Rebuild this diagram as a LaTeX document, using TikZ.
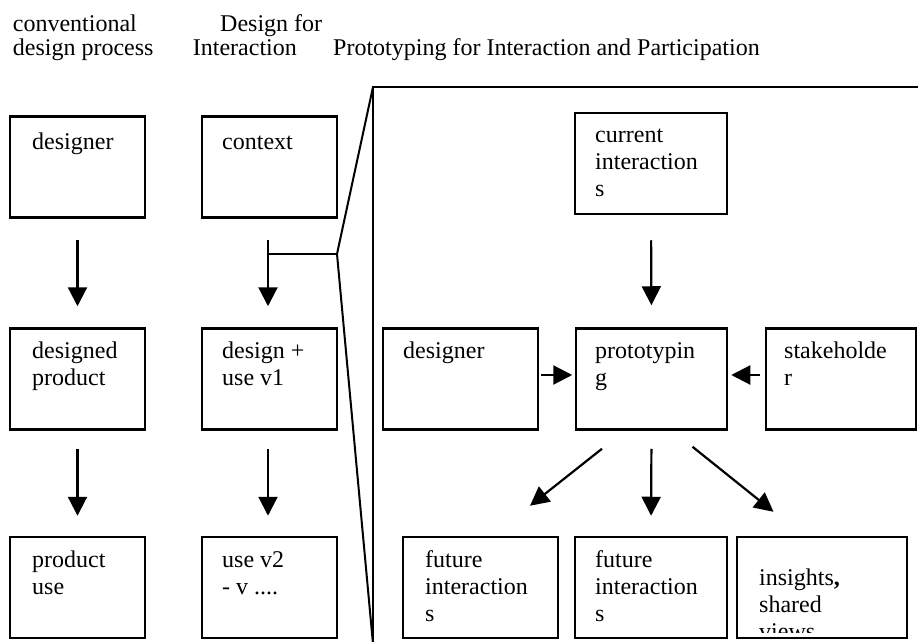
\documentclass[tikz,border=0pt]{standalone}
\usepackage{fontspec}
\setmainfont{Liberation Serif}
\usetikzlibrary{arrows.meta}
\begin{document}
\begin{tikzpicture}[x=1pt,y=-1pt,
  box/.style={draw, line width=2.5pt, rectangle, inner sep=0pt, minimum height=101pt},
  arr/.style={line width=2.2pt, -{Triangle[length=19pt,width=19pt]}},
  lbl/.style={anchor=base west, inner sep=0pt, font=\fontsize{24pt}{27pt}\selectfont},
  frame/.style={line width=2pt}]
\useasboundingbox (0,0) rectangle (918,642);
\clip (0,0) rectangle (918,642);

% headers
\node[lbl] (h1a) at (12.7,32) {conventional};
\node[lbl] (h1b) at (12.7,56) {design process};
\node[lbl] (h2a) at (220,32) {Design for};
\node[lbl] (h2b) at (192.7,56) {Interaction};
\node[lbl] (h3)  at (333,56) {Prototyping for Interaction and Participation};

% column 1
\node[box, minimum width=135pt] (c1r1) at (77.5,167) {};
\node[box, minimum width=135pt] (c1r2) at (77.5,379) {};
\node[box, minimum width=135pt] (c1r3) at (77.5,587.5) {};
% column 2
\node[box, minimum width=135pt] (c2r1) at (269.5,167) {};
\node[box, minimum width=135pt] (c2r2) at (269.5,379) {};
\node[box, minimum width=135pt] (c2r3) at (269.5,587.5) {};
% right panel
\node[box, minimum width=152pt] (cur) at (651,163.5) {};
\node[box, minimum width=155pt] (des) at (460.5,379) {};
\node[box, minimum width=151pt] (pro) at (651.5,379) {};
\node[box, minimum width=150pt] (stk) at (841,379) {};
\node[box, minimum width=155pt] (fu1) at (480.5,587.5) {};
\node[box, minimum width=152pt] (fu2) at (651,587.5) {};
\node[box, minimum width=170pt] (ins) at (822,587.5) {};

% texts
\node[lbl] (t11) at (32,149) {designer};
\node[lbl] (t12) at (32,358) {\vtop{\hbox{designed}\hbox{product}}};
\node[lbl] (t13) at (32,567) {\vtop{\hbox{product}\hbox{use}}};
\node[lbl] (t21) at (222,149) {context};
\node[lbl] (t22) at (222,358) {\vtop{\hbox{design +}\hbox{use v1}}};
\node[lbl] (t23) at (222,567) {\vtop{\hbox{use v2}\hbox{- v ....}}};
\node[lbl] (tcur) at (595,142) {\vtop{\hbox{current}\hbox{interaction}\hbox{s}}};
\node[lbl] (tdes) at (403,358) {designer};
\node[lbl] (tpro) at (595,358) {\vtop{\hbox{prototypin}\hbox{g}}};
\node[lbl] (tstk) at (784,358) {\vtop{\hbox{stakeholde}\hbox{r}}};
\node[lbl] (tfu1) at (425,567) {\vtop{\hbox{future}\hbox{interaction}\hbox{s}}};
\node[lbl] (tfu2) at (595,567) {\vtop{\hbox{future}\hbox{interaction}\hbox{s}}};
\begin{scope}
\clip (737,540) rectangle (907,632);
\node[lbl] (tins) at (759,585) {\vtop{\hbox{insights{\bfseries ,}}\hbox{shared}\hbox{views}}};
\end{scope}

% arrows left columns
\draw[arr, shorten <=21.5pt, shorten >=21pt] (c1r1.south) -- (c1r2.north);
\draw[arr, shorten <=18.5pt, shorten >=20pt] (c1r2.south) -- (c1r3.north);
\draw[arr, shorten <=21.5pt, shorten >=21pt] ([xshift=-1.5pt]c2r1.south) -- ([xshift=-1.5pt]c2r2.north);
\draw[arr, shorten <=18.5pt, shorten >=20pt] ([xshift=-1.5pt]c2r2.south) -- ([xshift=-1.5pt]c2r3.north);

% right panel arrows
\draw[arr, shorten <=25pt, shorten >=22pt] (cur.south) -- (pro.north);
\draw[arr, shorten <=2pt, shorten >=2.5pt] ([yshift=4pt]des.east) -- ([yshift=4pt]pro.west);
\draw[arr, shorten <=5pt, shorten >=3pt] ([yshift=4pt]stk.west) -- ([yshift=4pt]pro.east);
\draw[arr] ([xshift=-49.5pt,yshift=-18pt]pro.south) -- ([xshift=49.5pt,yshift=30pt]fu1.north);
\draw[arr, shorten <=18pt, shorten >=20pt] (pro.south) -- (fu2.north);
\draw[arr] ([xshift=41pt,yshift=-16pt]pro.south) -- ([xshift=-48.5pt,yshift=24pt]ins.north);

% frame and bracket
\coordinate (ftl) at (373,87);
\coordinate (fbl) at (373,644);
\coordinate (ftr) at (930,87);
\coordinate (brk) at (337,254);
\draw[frame] (fbl) -- (ftl) -- (ftr);
\draw[frame] (ftl) -- (brk) -- (fbl);
\draw[frame] (brk) -- ([xshift=-1.5pt]c2r1.south |- brk);
\end{tikzpicture}
\end{document}
